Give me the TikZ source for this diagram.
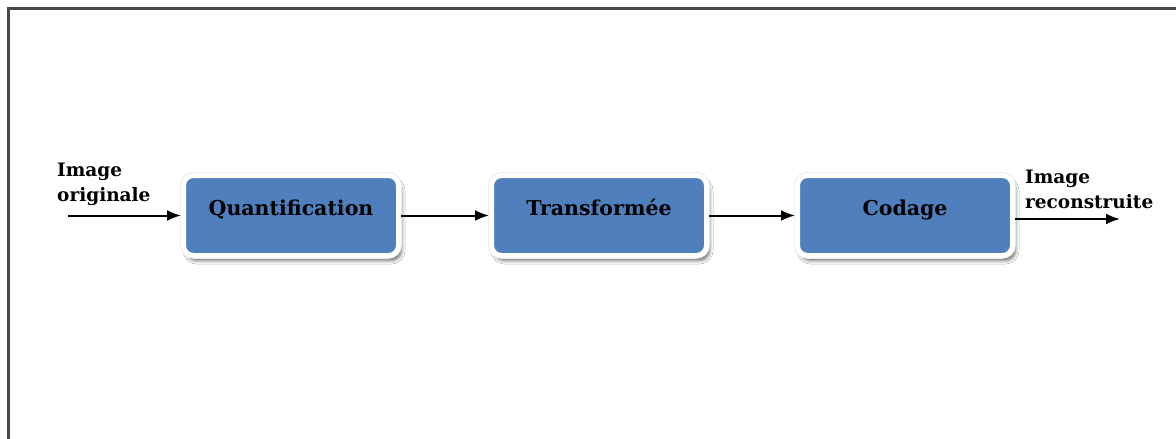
\documentclass[tikz,border=0pt]{standalone}
\usepackage{fontspec}
\newfontfamily\diagfont{DejaVu Serif}
\usetikzlibrary{arrows.meta,shadows.blur}
\definecolor{boxblue}{HTML}{4F7FBD}
\begin{document}
\begin{tikzpicture}[x=1pt,y=-1pt,
  stage/.style={rounded corners=10pt, fill=boxblue, draw=white, line width=5pt,
    minimum width=215pt, minimum height=80pt, inner sep=0pt,
    text height=10pt, text depth=10pt,
    font=\diagfont\bfseries\fontsize{20.5}{24}\selectfont,
    blur shadow={shadow xshift=3pt, shadow yshift=-5pt, shadow blur radius=3.5pt, shadow opacity=60},
    preaction={draw=black!10, line width=6.5pt}},
  flow/.style={-{Latex[length=14pt,width=11pt]}, line width=2pt},
  caption/.style={font=\diagfont\bfseries\fontsize{18.5}{25}\selectfont,
    align=left, inner sep=0pt, anchor=north west}
]
\useasboundingbox (0,0) rectangle (1176,439);
\fill[white] (0,0) rectangle (1176,439);

% outer frame (left and top edges)
\draw[line width=2.5pt, black!72] (8.5,439) -- (8.5,8.5) -- (1176,8.5);

% processing stages
\node[stage] (q) at (291,215.5) {Quantification};
\node[stage] (t) at (599,215.5) {Transformée};
\node[stage] (c) at (905,215.5) {Codage};

% input / output labels
\node[caption] (inlab) at (57,163) {Image\\originale};
\node[caption] (outlab) at (1025,170) {Image\\reconstruite};

% connectors
\coordinate (src) at (68,215.5);
\coordinate (dst) at (1120,219);
\draw[flow] (src) -- (q.west);
\draw[flow] (q.east) -- (t.west);
\draw[flow] (t.east) -- (c.west);
\draw[flow] ([yshift=-3.5pt]c.east) -- (dst);
\end{tikzpicture}
\end{document}
